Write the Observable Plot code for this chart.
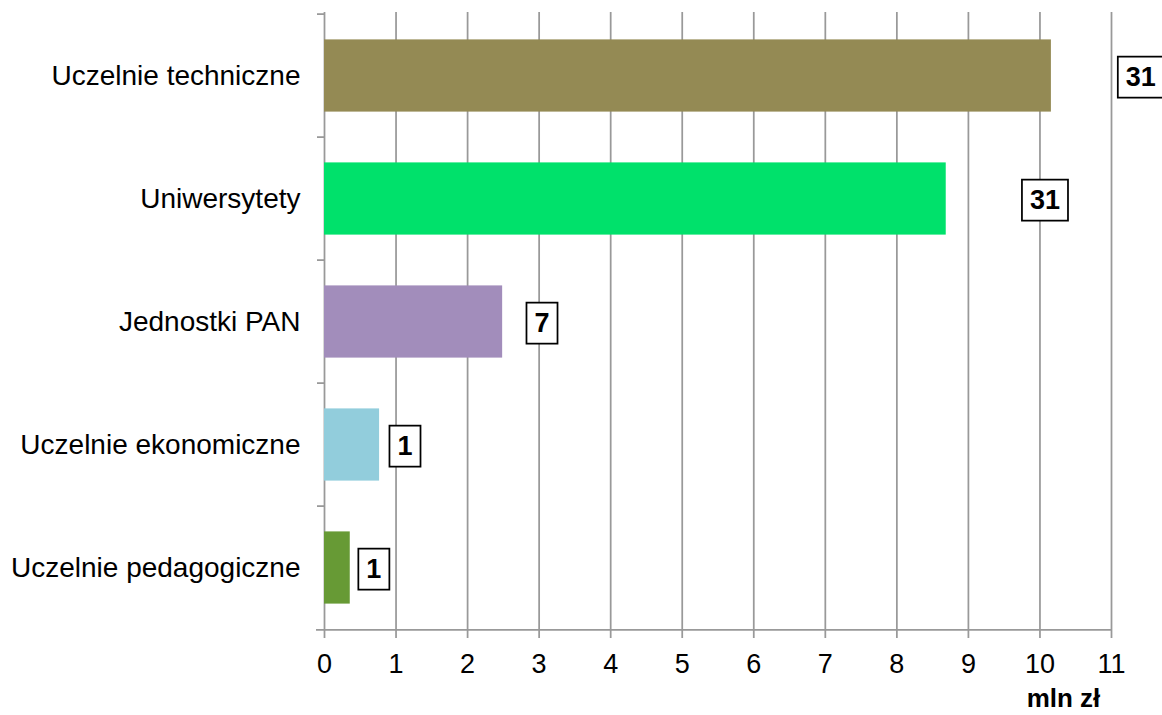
<!DOCTYPE html>
<html>
<head>
<meta charset="utf-8">
<script src="https://cdn.jsdelivr.net/npm/d3@7"></script>
<script src="https://cdn.jsdelivr.net/npm/@observablehq/plot@0.6"></script>
<style>
  html, body { margin: 0; padding: 0; background: #fff; }
  svg { font-family: "Liberation Sans", Arial, sans-serif; }
</style>
</head>
<body>
<div id="chart"></div>
<script>
const categories = ["Uczelnie techniczne", "Uniwersytety", "Jednostki PAN", "Uczelnie ekonomiczne", "Uczelnie pedagogiczne"];
const values = [10.16, 8.69, 2.49, 0.77, 0.36];      // mln zł
const counts = [31, 31, 7, 1, 1];                    // boxed labels
const labelX = [11.41, 10.07, 3.04, 1.125, 0.69];    // label anchor (mln zł units)
const colors = ["#948A54", "#00E16B", "#A28DBB", "#92CDDC", "#679A35"];
const xTicks = [0, 1, 2, 3, 4, 5, 6, 7, 8, 9, 10, 11];
const unitLabel = "mln zł";

const data = categories.map((c, i) => ({cat: c, v: values[i], n: counts[i], lx: labelX[i], color: colors[i]}));

const W = 1162, H = 715, mt = 12, mb = 84, ml = 324, mr = 51;
const bh = (H - mt - mb) / categories.length;
const grid = "#999999";

const chart = Plot.plot({
  width: W, height: H,
  marginTop: mt, marginBottom: mb, marginLeft: ml, marginRight: mr,
  x: {domain: [0, 11]},
  y: {domain: categories, padding: 0},
  color: {type: "identity"},
  marks: [
    Plot.ruleX(xTicks, {stroke: grid, strokeWidth: 1.75, insetBottom: -7}),
    Plot.ruleY(categories, {x1: 0, x2: 0, insetLeft: -7, dy: -bh / 2, stroke: grid, strokeWidth: 1.75}),
    Plot.ruleY([categories[categories.length - 1]], {x1: 0, x2: 11, insetLeft: -8, dy: bh / 2, stroke: grid, strokeWidth: 1.75}),
    Plot.barX(data, {x: "v", y: "cat", fill: "color", insetTop: 25.4, insetBottom: 25.4}),
    Plot.text(data, {x: "lx", y: "cat", text: d => String(d.n), fontWeight: "bold", fontSize: 27, fill: "black", dy: 1.5}),
    Plot.axisX(xTicks, {tickSize: 0, tickPadding: 22, fontSize: 27, fill: "black"}),
    Plot.axisY({tickSize: 0, tickPadding: 24, fontSize: 28, fill: "black", label: null}),
    Plot.text([unitLabel], {frameAnchor: "bottom-right", textAnchor: "middle", lineAnchor: "middle", dx: -48, dy: 67, fontWeight: "bold", fontSize: 26, fill: "black"})
  ]
});
chart.setAttribute("font-family", "Liberation Sans, Arial, sans-serif");
document.getElementById("chart").append(chart);

// draw boxes around the count labels (first text mark layer)
const g = chart.querySelectorAll('g[aria-label="text"]')[0];
if (g) {
  g.querySelectorAll("text").forEach(t => {
    const b = t.getBBox();
    const padX = 8, padY = 5.5;
    const r = document.createElementNS("http://www.w3.org/2000/svg", "rect");
    r.setAttribute("x", b.x - padX);
    r.setAttribute("y", b.y - padY);
    r.setAttribute("width", b.width + 2 * padX);
    r.setAttribute("height", b.height + 2 * padY);
    r.setAttribute("fill", "white");
    r.setAttribute("stroke", "black");
    r.setAttribute("stroke-width", "1.75");
    const tr = t.getAttribute("transform");
    if (tr) r.setAttribute("transform", tr);
    t.parentNode.insertBefore(r, t);
  });
}
</script>
</body>
</html>
